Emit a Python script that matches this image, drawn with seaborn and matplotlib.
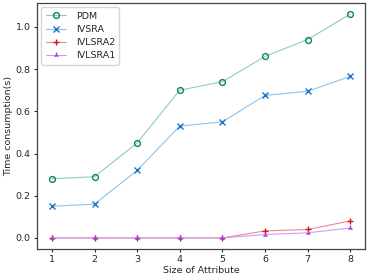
import numpy as np
import pandas as pd
import matplotlib
matplotlib.use('Agg')
import matplotlib.pyplot as plt
import seaborn as sns

sizes = [1, 2, 3, 4, 5, 6, 7, 8]
pdm = [0.28, 0.29, 0.45, 0.70, 0.74, 0.86, 0.94, 1.06]
ivsra = [0.15, 0.16, 0.32, 0.53, 0.55, 0.675, 0.695, 0.765]
ivlsra2 = [0.0, 0.0, 0.0, 0.0, 0.0, 0.033, 0.040, 0.080]
ivlsra1 = [0.0, 0.0, 0.0, 0.0, 0.0, 0.016, 0.024, 0.047]

names = ['PDM', 'IVSRA', 'IVLSRA2', 'IVLSRA1']
series = [pdm, ivsra, ivlsra2, ivlsra1]
markers = ['o', 'x', '+', '2']
mcolors = ['#13855a', '#1c74c9', '#d8141a', '#9b3fd6']
lcolors = ['#8ccfb0', '#8cc4ee', '#ee8a8e', '#cf9cf0']

sns.set_style('ticks')
plt.rcParams['font.family'] = ['DejaVu Sans']

fig, ax = plt.subplots(figsize=(3.74, 2.78), dpi=100)
for name, vals, mk, mc, lc in zip(names, series, markers, mcolors, lcolors):
    df = pd.DataFrame({'x': sizes, 'y': vals})
    sns.lineplot(data=df, x='x', y='y', ax=ax, color=lc, lw=0.8,
                 marker=mk, markersize=4.2, markeredgecolor=mc,
                 markerfacecolor='none' if mk == 'o' else mc,
                 markeredgewidth=1.0, label=name)

ax.set_xticks(sizes)
ax.set_yticks([0.0, 0.2, 0.4, 0.6, 0.8, 1.0])
ax.tick_params(labelsize=6.8, length=2.5, width=0.8, pad=2)
ax.set_xlabel('Size of Attribute', fontsize=6.8, labelpad=1.5)
ax.set_ylabel('Time consumption(s)', fontsize=6.8, labelpad=2)
for s in ax.spines.values():
    s.set_color('#444444')
    s.set_linewidth(0.9)
ax.legend(loc='upper left', fontsize=6.8, frameon=True, borderpad=0.45,
          labelspacing=0.45, handlelength=2.2, handletextpad=1.0,
          borderaxespad=0.45)
fig.subplots_adjust(left=0.099, right=0.976, top=0.989, bottom=0.104)
fig.savefig('out.png', dpi=100)
